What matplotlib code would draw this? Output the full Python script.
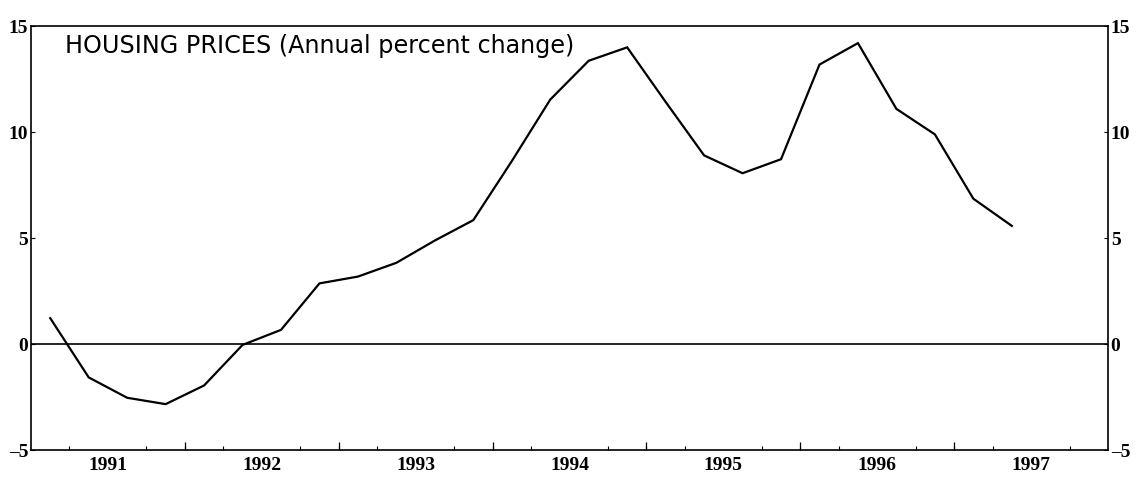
import matplotlib
matplotlib.use("Agg")
import matplotlib.pyplot as plt
from matplotlib.ticker import FixedLocator, NullFormatter

# quarterly data, 1991Q1 .. 1997Q2
years = [1991]*4 + [1992]*4 + [1993]*4 + [1994]*4 + [1995]*4 + [1996]*4 + [1997]*2
quarters = [1, 2, 3, 4]*6 + [1, 2]
housing = [1.21, -1.58, -2.54, -2.84,
           -1.96, -0.05, 0.66, 2.85,
           3.17, 3.82, 4.87, 5.83,
           8.61, 11.51, 13.34, 13.97,
           11.40, 8.88, 8.04, 8.70,
           13.16, 14.17, 11.07, 9.87,
           6.84, 5.56]

year_labels = ["1991", "1992", "1993", "1994", "1995", "1996", "1997"]
y_ticks = [-5, 0, 5, 10, 15]

title = "HOUSING PRICES (Annual percent change)"

# plot quarters at mid-quarter
x = [y + (q - 0.5) / 4 for y, q in zip(years, quarters)]
first_year = int(year_labels[0])
last_year = int(year_labels[-1]) + 1

fig = plt.figure(figsize=(11.4, 4.81), dpi=100)
ax = fig.add_axes([0.0272, 0.0624, 0.9447, 0.8825])

ax.axhline(0, color="black", lw=1.2)
ax.plot(x, housing, color="black", lw=1.6, solid_joinstyle="miter")

ax.set_xlim(first_year, last_year)
ax.set_ylim(y_ticks[0], y_ticks[-1])

tickfont = dict(family="Liberation Serif", weight="bold", size=14)

# year labels sit mid-year, quarter ticks inward
mids = [int(l) + 0.5 for l in year_labels]
ax.xaxis.set_major_locator(FixedLocator(mids))
ax.set_xticklabels(year_labels, **tickfont)
qticks = [first_year + i / 4 for i in range(1, (last_year - first_year) * 4)]
ax.xaxis.set_minor_locator(FixedLocator(qticks))
ax.tick_params(axis="x", which="major", length=0, pad=4)
ax.tick_params(axis="x", which="minor", direction="in", length=3, width=0.8)

# longer ticks at year boundaries
sec = ax.secondary_xaxis("bottom")
sec.set_xticks(list(range(first_year + 1, last_year)))
sec.xaxis.set_major_formatter(NullFormatter())
sec.tick_params(direction="in", length=6, width=0.9)
sec.spines["bottom"].set_visible(False)

ax.set_yticks(y_ticks)
ax.set_yticklabels([str(v) if v >= 0 else "\u2013" + str(-v) for v in y_ticks], **tickfont)
ax.tick_params(axis="y", direction="in", length=3, width=0.8, pad=2,
               left=True, right=True, labelleft=True, labelright=True)

for s in ax.spines.values():
    s.set_linewidth(1.2)

fig.text(65 / 1140, 1 - 53 / 481, title, family="DejaVu Sans", size=17.2,
         va="baseline", ha="left")

fig.savefig("out.png", dpi=100)
